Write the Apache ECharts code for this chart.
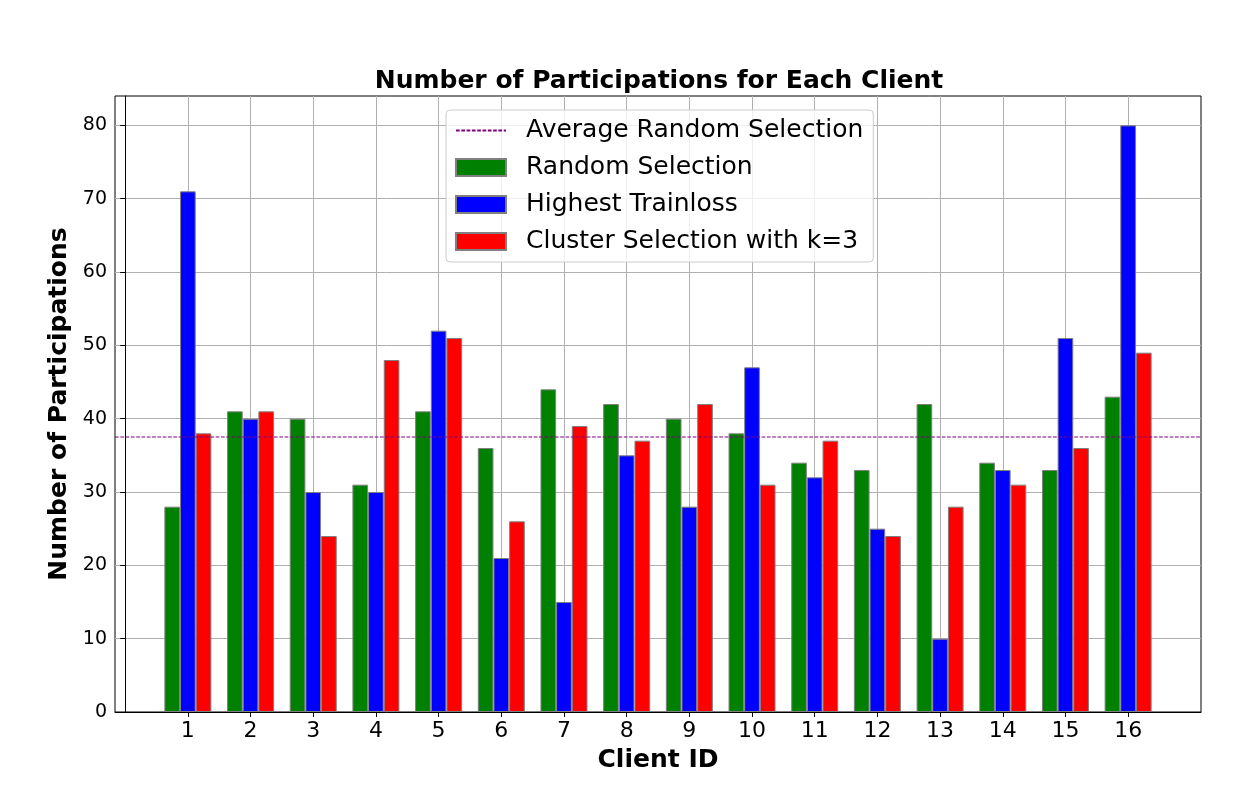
<!DOCTYPE html>
<html>
<head>
<meta charset="utf-8">
<script src="https://cdn.jsdelivr.net/npm/echarts@6/dist/echarts.min.js"></script>
<style>html,body{margin:0;padding:0;background:#fff}#c{width:1254px;height:800px}</style>
</head>
<body>
<div id="c"></div>
<script>
const CLIENTS = [1,2,3,4,5,6,7,8,9,10,11,12,13,14,15,16];
const RANDOM = [28,41,40,31,41,36,44,42,40,38,34,33,42,34,33,43];
const TRAINLOSS = [71,40,30,30,52,21,15,35,28,47,32,25,10,33,51,80];
const CLUSTER = [38,41,24,48,51,26,39,37,42,31,37,24,28,31,36,49];
const AVG_RANDOM = 37.5;
const Y_TICKS = [0,10,20,30,40,50,60,70,80];
const X_MIN = -0.1625, X_MAX = 17.1625;

const FONT = 'DejaVu Sans';
const chart = echarts.init(document.getElementById('c'), null, {renderer:'canvas'});
const barStyle = c => ({color:c, borderColor:'#808080', borderWidth:1});
const pairs = arr => CLIENTS.map((c,i)=>[c,arr[i]]);
chart.setOption({
  animation:false,
  backgroundColor:'#ffffff',
  textStyle:{fontFamily:FONT},
  title:{text:'Number of Participations for Each Client', left:654, top:64, textAlign:'center',
    textStyle:{fontFamily:FONT, fontWeight:'bold', fontSize:25, color:'#000'}},
  grid:{left:115, right:53, top:96, bottom:88, show:true, borderColor:'#000', borderWidth:1, backgroundColor:'transparent'},
  legend:{
    orient:'vertical', left:446, top:110,
    padding:[8,10,8,9], itemGap:12, itemWidth:50, itemHeight:17,
    backgroundColor:'rgba(255,255,255,0.8)', borderColor:'#cccccc', borderWidth:1, borderRadius:4,
    textStyle:{fontFamily:FONT, fontSize:25, color:'#000', padding:[0,0,0,15], lineHeight:25},
    data:[
      {name:'Average Random Selection', itemStyle:{opacity:0}},
      {name:'Random Selection', icon:'rect'},
      {name:'Highest Trainloss', icon:'rect'},
      {name:'Cluster Selection with k=3', icon:'rect'}
    ]
  },
  xAxis:{
    type:'value', min:X_MIN, max:X_MAX,
    name:'Client ID', nameLocation:'middle', nameGap:36,
    nameTextStyle:{fontFamily:FONT, fontWeight:'bold', fontSize:25, color:'#000'},
    axisLine:{show:true, lineStyle:{color:'#000', width:1}},
    axisTick:{show:true, customValues:CLIENTS, length:5, lineStyle:{color:'#000'}},
    axisLabel:{customValues:CLIENTS, fontFamily:FONT, fontSize:22, color:'#000', margin:8},
    splitLine:{show:true, lineStyle:{color:'#b0b0b0', width:1}}
  },
  yAxis:{
    type:'value', min:0, max:84, interval:10,
    name:'Number of Participations', nameLocation:'middle', nameGap:36,
    nameTextStyle:{fontFamily:FONT, fontWeight:'bold', fontSize:25, color:'#000'},
    axisLine:{show:true, lineStyle:{color:'#000', width:1}},
    axisTick:{show:true, customValues:Y_TICKS, length:5, lineStyle:{color:'#000'}},
    axisLabel:{customValues:Y_TICKS, fontFamily:FONT, fontSize:19, color:'#000', margin:8},
    splitLine:{show:true, lineStyle:{color:'#b0b0b0', width:1}}
  },
  series:[
    {name:'Average Random Selection', type:'line', symbol:'none', z:5,
      data:[[X_MIN,AVG_RANDOM],[X_MAX,AVG_RANDOM]],
      lineStyle:{color:'#800080', width:1, type:[3.7,1.6]}, itemStyle:{color:'#800080'}},
    {name:'Random Selection', type:'bar', barWidth:15.67, barGap:'0%', data:pairs(RANDOM), itemStyle:barStyle('#008000')},
    {name:'Highest Trainloss', type:'bar', barWidth:15.67, barGap:'0%', data:pairs(TRAINLOSS), itemStyle:barStyle('#0000ff')},
    {name:'Cluster Selection with k=3', type:'bar', barWidth:15.67, barGap:'0%', data:pairs(CLUSTER), itemStyle:barStyle('#ff0000')}
  ]
});
</script>
</body>
</html>
